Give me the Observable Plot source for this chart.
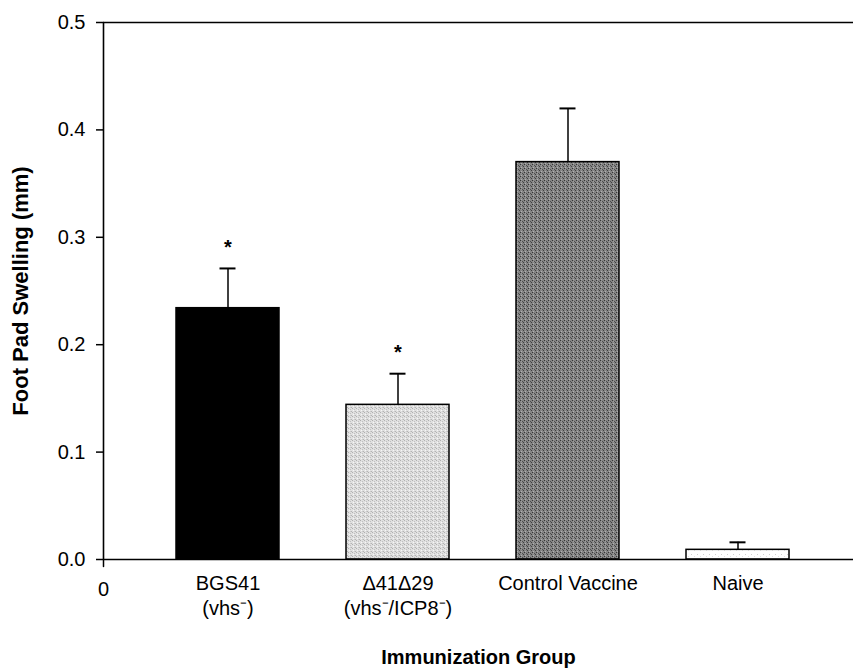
<!DOCTYPE html>
<html>
<head>
<meta charset="utf-8">
<script src="https://cdn.jsdelivr.net/npm/d3@7"></script>
<script src="https://cdn.jsdelivr.net/npm/@observablehq/plot@0.6"></script>
<style>
  html, body { margin: 0; padding: 0; background: white; }
</style>
</head>
<body>
<div id="chart"></div>
<script>
// ---- data ----
const groups = ["BGS41\n(vhs⁻)", "Δ41Δ29\n(vhs⁻/ICP8⁻)", "Control Vaccine", "Naive"];
const means = [0.234, 0.144, 0.370, 0.009];
const sems = [0.037, 0.029, 0.050, 0.007];
const sigMarks = ["*", "*", "", ""];
const yTicks = [0, 0.1, 0.2, 0.3, 0.4, 0.5];
const yTitle = "Foot Pad Swelling (mm)";
const xTitle = "Immunization Group";
const originLabel = "0";

const data = groups.map((g, i) => ({group: g, mean: means[i], top: means[i] + sems[i], mark: sigMarks[i]}));

// ---- layout / style ----
const W = 853, H = 671, mL = 103, mR = 0, mT = 22, mB = 112;
const plotH = H - mT - mB;
const fills = ["black", "url(#pLight)", "url(#pDark)", "url(#pFaint)"];
const lineShape = {draw(ctx, l) { ctx.moveTo(0, 0); ctx.lineTo(0, -l); }};

const chart = Plot.plot({
  width: W, height: H,
  marginLeft: mL, marginRight: mR, marginTop: mT, marginBottom: mB,
  style: {fontFamily: "'Liberation Sans', Arial, sans-serif", fontSize: "20px", color: "black", background: "white"},
  x: {type: "band", domain: groups, paddingInner: 0.392, paddingOuter: 0.389, align: 0.534, axis: null},
  y: {domain: [0, 0.5], axis: null},
  color: {type: "ordinal", domain: groups, range: fills},
  marks: [
    Plot.barY(data, {x: "group", y: "mean", fill: "group", stroke: "black", strokeWidth: 1.5}),
    Plot.ruleX(data, {x: "group", y1: "mean", y2: "top", stroke: "black", strokeWidth: 1.5}),
    Plot.tickY(data, {x: "group", y: "top", stroke: "black", strokeWidth: 2, insetLeft: 43.5, insetRight: 43.5}),
    Plot.text(data, {x: "group", y: "top", text: "mark", dy: -21, fontSize: 20, fontWeight: "bold"}),
    Plot.ruleY([0, 0.5], {stroke: "black", strokeWidth: 1.6}),
    Plot.vector([0], {frameAnchor: "bottom-left", length: plotH, anchor: "start", shape: lineShape, stroke: "black", strokeWidth: 1.6}),
    Plot.vector([0], {frameAnchor: "bottom-left", length: 7, rotate: 180, anchor: "start", shape: lineShape, stroke: "black", strokeWidth: 1.5}),
    Plot.axisY({ticks: yTicks, tickFormat: d3.format(".1f"), tickSize: 7, tickPadding: 11, label: null, fontSize: 20, strokeWidth: 1.5}),
    Plot.axisX({tickSize: 0, tickPadding: 13, label: null, lineHeight: 1.25, fontSize: 20}),
    Plot.text([originLabel], {frameAnchor: "bottom-left", textAnchor: "middle", lineAnchor: "middle", dy: 30, fontSize: 20}),
    Plot.text([yTitle], {frameAnchor: "left", textAnchor: "middle", lineAnchor: "middle", rotate: -90, dx: -83, fontSize: 22, fontWeight: "bold"}),
    Plot.text([xTitle], {frameAnchor: "bottom", textAnchor: "middle", lineAnchor: "middle", dy: 98, fontSize: 20, fontWeight: "bold"})
  ]
});

// stipple patterns for bar fills
const svg = d3.select(chart.tagName.toLowerCase() === "svg" ? chart : chart.querySelector("svg"));
const defs = svg.insert("defs", ":first-child");
function pattern(id, size, bg, dots) {
  const p = defs.append("pattern").attr("id", id).attr("patternUnits", "userSpaceOnUse")
    .attr("width", size).attr("height", size);
  p.append("rect").attr("width", size).attr("height", size).attr("fill", bg);
  dots.forEach(([x, y, c]) => p.append("rect").attr("x", x).attr("y", y).attr("width", 1).attr("height", 1).attr("fill", c));
}
pattern("pLight", 4, "#e0e0e0", [[0,0,"#b0b0b0"],[2,1,"#c0c0c0"],[1,2,"#f6f6f6"],[3,3,"#b4b4b4"],[2,3,"#cccccc"]]);
pattern("pDark", 4, "#858585", [[0,0,"#363636"],[2,1,"#4e4e4e"],[1,3,"#b0b0b0"],[3,2,"#404040"],[1,1,"#9c9c9c"]]);
pattern("pFaint", 6, "#ffffff", [[1,2,"#cfcfcf"],[4,4,"#e2e2e2"]]);

document.getElementById("chart").appendChild(chart);
</script>
</body>
</html>
